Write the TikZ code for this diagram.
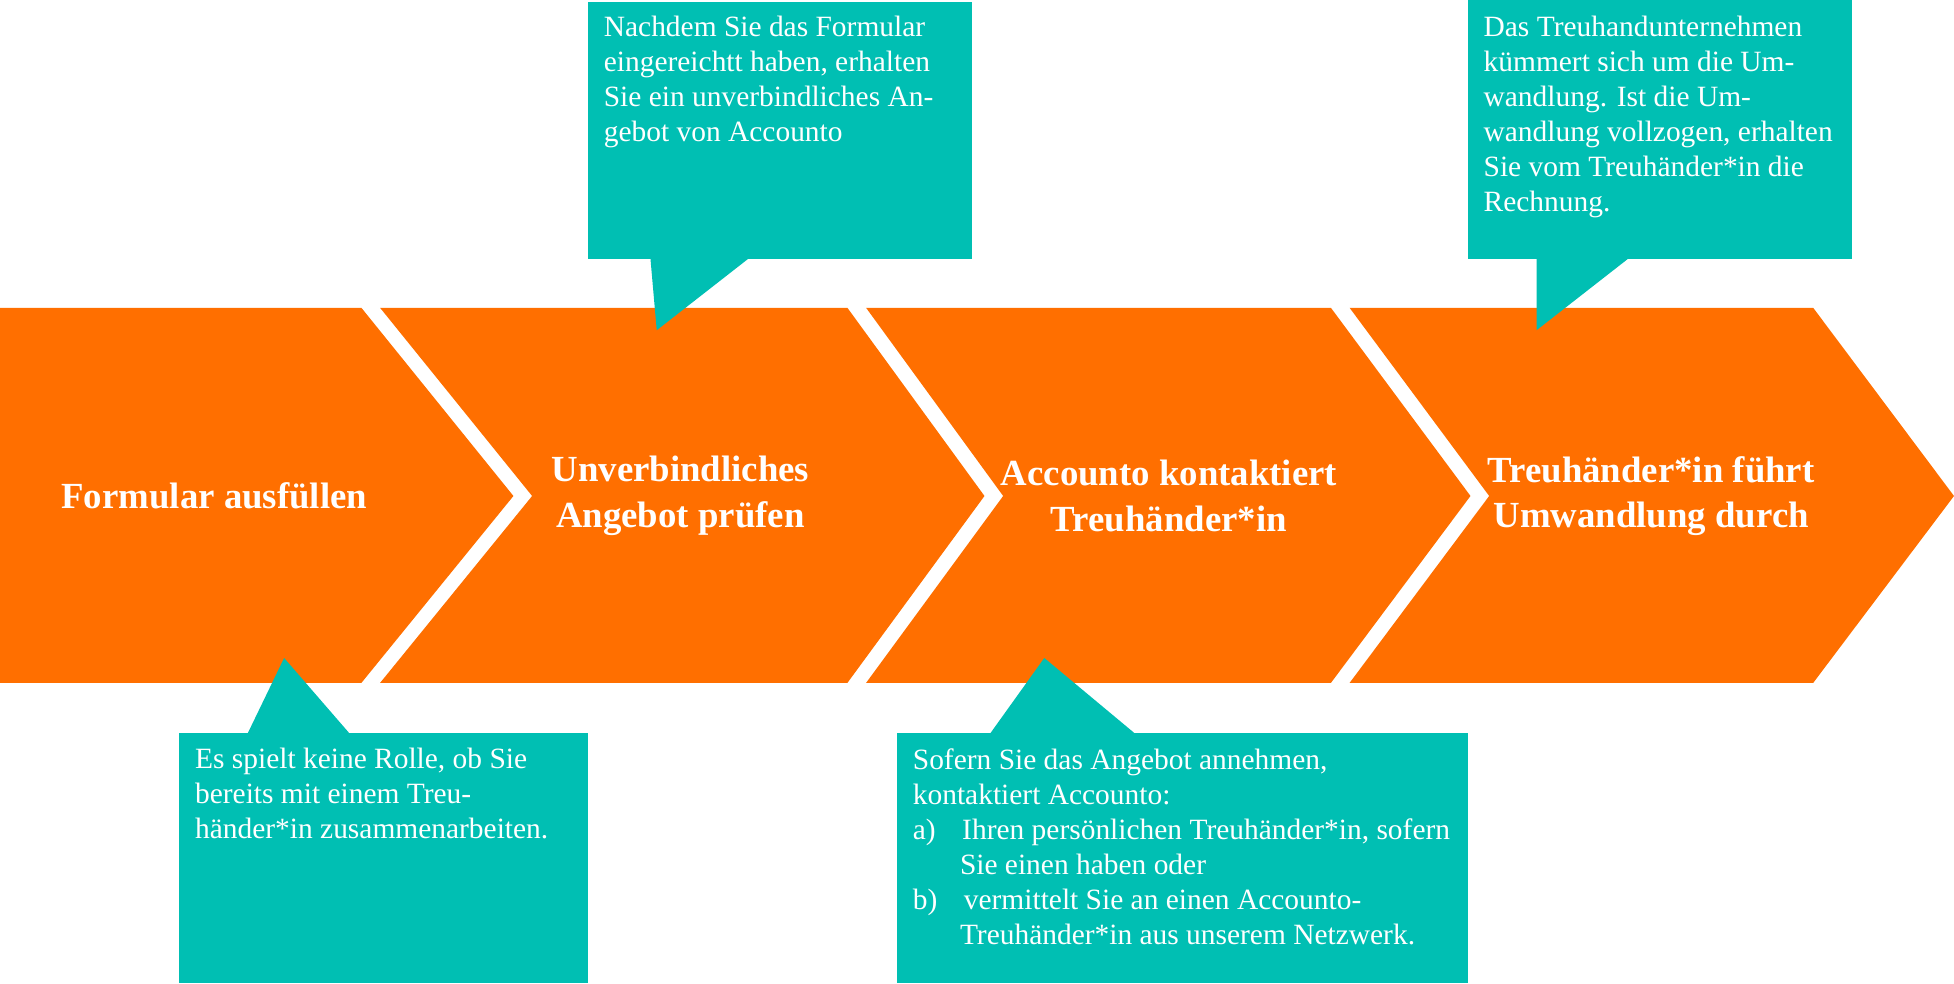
\documentclass[tikz,border=0pt]{standalone}
\usepackage{fontspec}
\setmainfont{Liberation Serif}
\usetikzlibrary{positioning}
\definecolor{stepcol}{HTML}{FF6F00}
\definecolor{notecol}{HTML}{00BFB3}
\tikzstyle{chevron} = [fill=stepcol, draw=none]
\tikzstyle{callout} = [fill=notecol, draw=none]
\tikzstyle{steplabel} = [text=white, font=\fontsize{10.5}{13}\selectfont\bfseries, align=center]
\tikzstyle{notetext} = [text=white, font=\fontsize{8.4}{10}\selectfont, align=left, anchor=north west, inner sep=0pt]

\begin{document}
\begin{tikzpicture}[x=0.0125cm, y=-0.0125cm]
\useasboundingbox (0,0) rectangle (1568,789);

% Chevrons
\fill [chevron] (0,247) -- (290,247) -- (412,398) -- (290,548) -- (0,548) -- cycle;
\fill [chevron] (305,247) -- (680,247) -- (790,398) -- (680,548) -- (305,548) -- (427,398) -- cycle;
\fill [chevron] (695,247) -- (1068,247) -- (1180,398) -- (1068,548) -- (695,548) -- (805,398) -- cycle;
\fill [chevron] (1083,247) -- (1455,247) -- (1568,398) -- (1455,548) -- (1083,548) -- (1195,398) -- cycle;

\node (form) [steplabel] at (172,398) {Formular ausfüllen};
\node (offer) [steplabel] at (546,398) {Unverbindliches\\Angebot prüfen};
\node (contact) [steplabel] at (938,398) {Accounto kontaktiert\\Treuhänder*in};
\node (convert) [steplabel] at (1325,398) {Treuhänder*in führt\\Umwandlung durch};

% Callouts
\fill [callout] (472,2) rectangle (780,208);
\fill [callout] (522,208) -- (527,265) -- (600,208) -- cycle;
\fill [callout] (1178,0) rectangle (1486,208);
\fill [callout] (1233,208) -- (1233,265) -- (1306,208) -- cycle;
\fill [callout] (144,588) rectangle (472,789);
\fill [callout] (199,588) -- (228,528) -- (280,588) -- cycle;
\fill [callout] (720,588) rectangle (1178,789);
\fill [callout] (795,588) -- (838,528) -- (910,588) -- cycle;

\node (noteoffer) [notetext, text width=270\pgflinewidth] at (484,12) {};
\node (noteoffertext) [notetext] at (484,12) {Nachdem Sie das Formular\\eingereichtt haben, erhalten\\Sie ein unverbindliches An-\\gebot von Accounto};
\node (noteconvert) [notetext] at (1190,12) {Das Treuhandunternehmen\\kümmert sich um die Um-\\wandlung. Ist die Um-\\wandlung vollzogen, erhalten\\Sie vom Treuhänder*in die\\Rechnung.};
\node (noteform) [notetext] at (156,600) {Es spielt keine Rolle, ob Sie\\bereits mit einem Treu-\\händer*in zusammenarbeiten.};
\node (notecontact) [notetext] at (732,600) {Sofern Sie das Angebot annehmen,\\kontaktiert Accounto:\\a)\hspace{0.9em}Ihren persönlichen Treuhänder*in, sofern\\\hspace{1.6em}Sie einen haben oder\\b)\hspace{0.9em}vermittelt Sie an einen Accounto-\\\hspace{1.6em}Treuhänder*in aus unserem Netzwerk.};

\end{tikzpicture}
\end{document}
